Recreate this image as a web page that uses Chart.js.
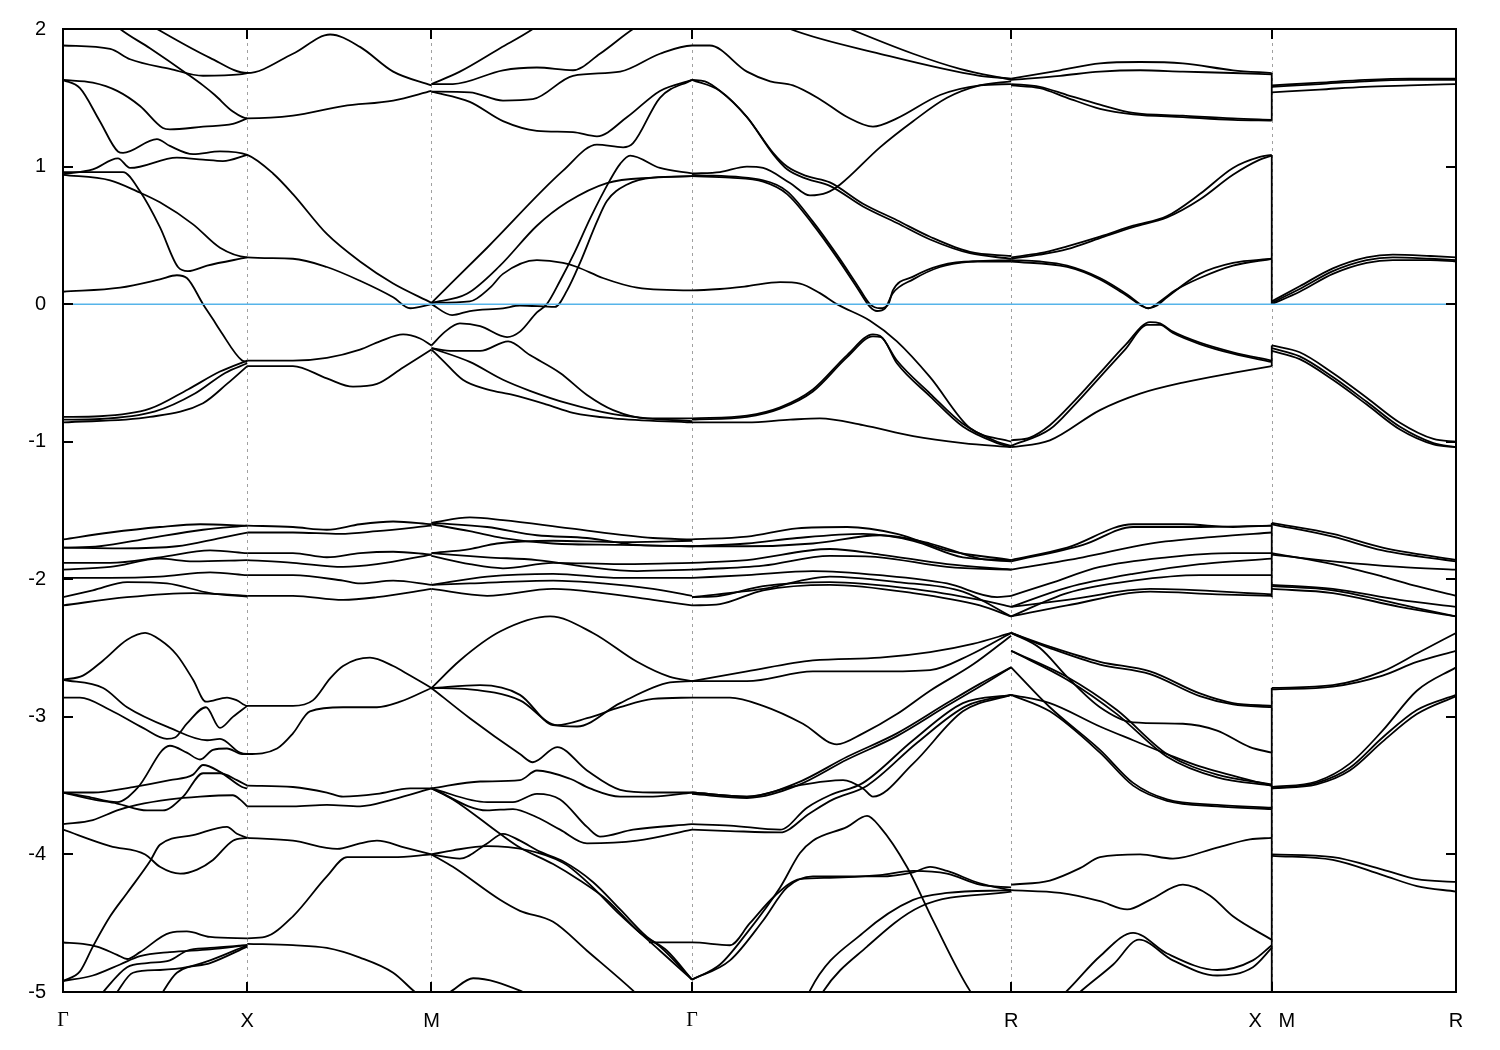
<!DOCTYPE html>
<html>
<head>
<meta charset="utf-8">
<script src="https://cdn.jsdelivr.net/npm/chart.js@4/dist/chart.umd.min.js"></script>
<style>
  html, body { margin: 0; background: #fff; }
</style>
</head>
<body>
<canvas id="bands" width="1500" height="1050"></canvas>
<script>
// k-path (units of 2pi/a) and labels
const kNodes = [0, 0.5, 1, 1.7071, 2.5731, 3.2802, 3.7802];
const kLabels = ['Γ', 'X', 'M', 'Γ', 'R', 'X   M', 'R'];
const yTicks = [-5, -4, -3, -2, -1, 0, 1, 2];
const fermiLevel = 0;
// vertical connections at the X|M break
const jumpEnergies = [[1.68, 1.335], [1.085, 0.0], [-0.30, -0.45], [-1.59, -2.13], [-2.79, -5.0]];

// bands near the Fermi level, [k, E] pairs
const upperBands = [
  [[0.13,2.06],[0.155,2.0],[0.236,1.86],[0.339,1.67],[0.380,1.59],[0.412,1.52],[0.461,1.40],[0.5,1.35],[0.624,1.37],[0.760,1.44],[0.896,1.48],[1,1.55]],
  [[0.23,2.04],[0.255,2.0],[0.399,1.79],[0.5,1.68],[0.624,1.82],[0.725,1.96],[0.806,1.87],[0.896,1.69],[1,1.59]],
  [[0,1.88],[0.128,1.855],[0.182,1.78],[0.290,1.71],[0.380,1.66],[0.480,1.67],[0.5,1.68]],
  [[0,1.63],[0.081,1.61],[0.147,1.55],[0.209,1.44],[0.271,1.28],[0.290,1.27],[0.380,1.29],[0.461,1.31],[0.5,1.35]],
  [[0,1.63],[0.046,1.57],[0.100,1.33],[0.149,1.11],[0.163,1.10],[0.255,1.20],[0.290,1.15],[0.353,1.09],[0.426,1.11],[0.5,1.085],[0.570,0.95],[0.624,0.80],[0.716,0.51],[0.806,0.31],[0.896,0.15],[1,0.01]],
  [[0,0.945],[0.081,0.98],[0.149,1.06],[0.182,0.99],[0.309,1.065],[0.380,1.05],[0.434,1.04],[0.5,1.085]],
  [[0,0.96],[0.163,0.96],[0.209,0.82],[0.263,0.56],[0.312,0.27],[0.339,0.24],[0.391,0.28],[0.5,0.34]],
  [[0,0.94],[0.128,0.90],[0.201,0.82],[0.263,0.74],[0.353,0.58],[0.426,0.41],[0.5,0.34],[0.624,0.33],[0.716,0.27],[0.806,0.17],[0.896,0.05],[0.942,-0.03],[1,0.0]],
  [[0,0.09],[0.155,0.12],[0.263,0.18],[0.309,0.21],[0.336,0.19],[0.380,0.0],[0.407,-0.11],[0.426,-0.19],[0.486,-0.41],[0.5,-0.42]],
  [[0,-0.82],[0.100,-0.815],[0.236,-0.76],[0.339,-0.62],[0.426,-0.49],[0.5,-0.41]],
  [[0,-0.84],[0.100,-0.835],[0.250,-0.78],[0.358,-0.65],[0.440,-0.50],[0.5,-0.43]],
  [[0,-0.86],[0.236,-0.82],[0.380,-0.72],[0.445,-0.58],[0.5,-0.45]],
  [[0.5,-0.41],[0.624,-0.41],[0.716,-0.39],[0.806,-0.33],[0.860,-0.27],[0.923,-0.22],[0.969,-0.25],[1,-0.30]],
  [[0.5,-0.45],[0.624,-0.45],[0.716,-0.54],[0.787,-0.60],[0.852,-0.58],[0.923,-0.46],[1,-0.33]],
  [[1,-0.30],[1.037,-0.2],[1.077,-0.14],[1.132,-0.16],[1.205,-0.24],[1.240,-0.2],[1.286,-0.06],[1.313,0.0],[1.349,0.17],[1.389,0.38],[1.430,0.62],[1.484,0.9],[1.512,1.02],[1.539,1.08],[1.620,0.99],[1.707,0.95]],
  [[1,-0.32],[1.058,-0.34],[1.132,-0.34],[1.208,-0.27],[1.267,-0.37],[1.349,-0.5],[1.422,-0.66],[1.493,-0.77],[1.585,-0.83],[1.707,-0.83]],
  [[1,-0.33],[1.031,-0.41],[1.085,-0.55],[1.151,-0.62],[1.221,-0.66],[1.313,-0.73],[1.384,-0.79],[1.493,-0.83],[1.707,-0.86]],
  [[1,-0.32],[1.104,-0.42],[1.194,-0.55],[1.267,-0.63],[1.368,-0.72],[1.493,-0.80],[1.585,-0.83],[1.707,-0.85]],
  [[1,0.01],[1.104,0.02],[1.159,0.12],[1.194,0.22],[1.286,0.32],[1.357,0.30],[1.395,0.27],[1.465,0.19],[1.558,0.12],[1.707,0.10],[1.783,0.11],[1.856,0.13],[1.946,0.16],[2.000,0.15],[2.054,0.08],[2.100,0.0],[2.190,-0.12],[2.263,-0.27],[2.353,-0.53],[2.461,-0.9],[2.573,-1.0]],
  [[1,0.0],[1.056,-0.08],[1.104,-0.05],[1.194,-0.03],[1.240,-0.01],[1.335,-0.02],[1.368,0.1],[1.403,0.3],[1.449,0.6],[1.476,0.75],[1.531,0.87],[1.601,0.92],[1.707,0.93]],
  [[1,0.01],[1.096,0.075],[1.186,0.28],[1.286,0.57],[1.368,0.74],[1.476,0.88],[1.601,0.92],[1.707,0.93]],
  [[1,0.01],[1.151,0.41],[1.357,0.97],[1.449,1.16],[1.520,1.14],[1.547,1.17],[1.620,1.5],[1.707,1.63]],
  [[1,1.545],[1.104,1.47],[1.194,1.33],[1.286,1.26],[1.384,1.25],[1.449,1.22],[1.531,1.36],[1.620,1.55],[1.707,1.63]],
  [[1,1.545],[1.104,1.54],[1.194,1.48],[1.275,1.49],[1.384,1.66],[1.512,1.69],[1.620,1.82],[1.707,1.88],[1.755,1.88],[1.856,1.69],[1.919,1.62],[1.981,1.59],[2.054,1.49],[2.128,1.36],[2.198,1.29],[2.263,1.35],[2.380,1.52],[2.488,1.59],[2.573,1.60]],
  [[1,1.60],[1.058,1.60],[1.194,1.70],[1.286,1.72],[1.384,1.70],[1.457,1.82],[1.547,2.0],[1.58,2.05]],
  [[1,1.60],[1.077,1.69],[1.186,1.86],[1.275,2.0],[1.30,2.05]],
  [[1.95,2.03],[1.973,2.0],[2.217,1.82],[2.488,1.66],[2.573,1.64]],
  [[2.11,2.03],[2.136,2.0],[2.307,1.82],[2.434,1.71],[2.573,1.63]],
  [[1.707,1.63],[1.742,1.62],[1.783,1.55],[1.856,1.36],[1.927,1.09],[1.965,0.98],[2.019,0.91],[2.081,0.86],[2.171,0.71],[2.263,0.59],[2.353,0.47],[2.461,0.37],[2.573,0.33]],
  [[1.707,1.63],[1.783,1.55],[1.856,1.36],[1.927,1.10],[1.965,1.0],[2.019,0.93],[2.081,0.885],[2.171,0.73],[2.263,0.61],[2.353,0.49],[2.461,0.38],[2.573,0.35]],
  [[1.707,0.95],[1.783,0.96],[1.856,1.0],[1.900,0.99],[1.973,0.88],[2.027,0.79],[2.073,0.81],[2.109,0.87],[2.217,1.14],[2.307,1.33],[2.399,1.5],[2.488,1.59],[2.573,1.62]],
  [[1.707,0.93],[1.810,0.92],[1.900,0.89],[1.965,0.80],[2.035,0.58],[2.100,0.34],[2.155,0.12],[2.190,-0.02],[2.209,-0.05],[2.231,-0.03],[2.252,0.08],[2.307,0.18],[2.380,0.27],[2.469,0.31],[2.573,0.32]],
  [[1.707,0.94],[1.900,0.90],[1.965,0.82],[2.035,0.60],[2.100,0.36],[2.155,0.14],[2.190,0.0],[2.217,-0.03],[2.240,0.0],[2.252,0.10],[2.307,0.20],[2.380,0.28],[2.469,0.31],[2.573,0.31]],
  [[1.707,-0.83],[1.856,-0.81],[1.946,-0.75],[2.035,-0.62],[2.128,-0.37],[2.198,-0.22],[2.217,-0.23],[2.263,-0.41],[2.353,-0.65],[2.442,-0.87],[2.535,-1.0],[2.573,-1.03]],
  [[1.707,-0.84],[1.856,-0.82],[1.946,-0.76],[2.035,-0.635],[2.128,-0.385],[2.198,-0.235],[2.220,-0.24],[2.263,-0.43],[2.353,-0.67],[2.442,-0.89],[2.535,-1.01],[2.573,-1.04]],
  [[1.707,-0.86],[1.856,-0.86],[1.973,-0.84],[2.054,-0.83],[2.171,-0.88],[2.307,-0.96],[2.442,-1.01],[2.573,-1.04]],
  [[2.573,1.64],[2.706,1.70],[2.814,1.75],[2.923,1.76],[3.039,1.75],[3.175,1.70],[3.2802,1.68]],
  [[2.573,1.63],[2.706,1.66],[2.814,1.69],[2.923,1.70],[3.039,1.69],[3.175,1.68],[3.2802,1.67]],
  [[2.573,1.60],[2.651,1.58],[2.725,1.52],[2.814,1.45],[2.904,1.39],[3.039,1.37],[3.175,1.35],[3.2802,1.34]],
  [[2.573,1.59],[2.651,1.57],[2.725,1.50],[2.814,1.42],[2.904,1.38],[3.039,1.36],[3.175,1.34],[3.2802,1.335]],
  [[2.573,0.34],[2.651,0.37],[2.725,0.42],[2.814,0.49],[2.904,0.57],[2.996,0.64],[3.085,0.80],[3.175,0.99],[3.248,1.07],[3.2802,1.085]],
  [[2.573,0.33],[2.651,0.36],[2.725,0.40],[2.814,0.48],[2.904,0.56],[2.996,0.63],[3.085,0.76],[3.175,0.94],[3.248,1.05],[3.2802,1.08]],
  [[2.573,0.32],[2.651,0.31],[2.725,0.28],[2.814,0.19],[2.888,0.07],[2.923,0.0],[2.945,-0.03],[2.969,-0.01],[2.996,0.05],[3.085,0.22],[3.175,0.30],[3.2802,0.33]],
  [[2.573,0.31],[2.725,0.27],[2.814,0.18],[2.888,0.06],[2.945,-0.03],[2.977,0.02],[3.018,0.1],[3.085,0.19],[3.175,0.28],[3.2802,0.33]],
  [[2.573,-0.99],[2.624,-0.97],[2.678,-0.88],[2.746,-0.7],[2.814,-0.5],[2.882,-0.3],[2.950,-0.13],[2.977,-0.14],[3.012,-0.2],[3.085,-0.28],[3.175,-0.35],[3.2802,-0.41]],
  [[2.573,-1.03],[2.678,-0.91],[2.746,-0.73],[2.814,-0.53],[2.882,-0.33],[2.942,-0.15],[2.977,-0.15],[3.012,-0.21],[3.085,-0.29],[3.175,-0.36],[3.2802,-0.42]],
  [[2.573,-1.04],[2.678,-0.99],[2.814,-0.77],[2.923,-0.65],[3.039,-0.57],[3.175,-0.5],[3.2802,-0.45]],
  [[3.2802,1.59],[3.410,1.61],[3.533,1.63],[3.655,1.64],[3.7802,1.64]],
  [[3.2802,1.58],[3.410,1.60],[3.533,1.62],[3.655,1.63],[3.7802,1.63]],
  [[3.2802,1.54],[3.410,1.56],[3.533,1.58],[3.655,1.59],[3.7802,1.60]],
  [[3.2802,0.02],[3.356,0.13],[3.446,0.26],[3.538,0.34],[3.609,0.36],[3.711,0.35],[3.7802,0.34]],
  [[3.2802,0.01],[3.356,0.11],[3.446,0.24],[3.538,0.32],[3.609,0.34],[3.711,0.33],[3.7802,0.32]],
  [[3.2802,0.0],[3.356,0.09],[3.446,0.22],[3.538,0.30],[3.609,0.32],[3.711,0.32],[3.7802,0.31]],
  [[3.2802,-0.30],[3.356,-0.35],[3.446,-0.50],[3.538,-0.68],[3.627,-0.86],[3.719,-0.98],[3.7802,-1.0]],
  [[3.2802,-0.32],[3.356,-0.38],[3.446,-0.53],[3.538,-0.71],[3.627,-0.89],[3.719,-1.01],[3.7802,-1.04]],
  [[3.2802,-0.34],[3.356,-0.40],[3.446,-0.55],[3.538,-0.73],[3.627,-0.91],[3.719,-1.02],[3.7802,-1.04]]
];

// flat d-like bands between -1.5 and -2.3
const midBands = [
  [[0,-1.71],[0.128,-1.66],[0.263,-1.62],[0.372,-1.60],[0.5,-1.61]],
  [[0,-1.77],[0.100,-1.76],[0.236,-1.70],[0.380,-1.64],[0.5,-1.61]],
  [[0,-1.77],[0.155,-1.775],[0.309,-1.76],[0.426,-1.70],[0.5,-1.66]],
  [[0,-1.88],[0.128,-1.88],[0.263,-1.84],[0.399,-1.79],[0.5,-1.81]],
  [[0,-1.93],[0.128,-1.91],[0.263,-1.85],[0.353,-1.87],[0.5,-1.86]],
  [[0,-1.99],[0.128,-1.99],[0.263,-1.98],[0.399,-1.95],[0.5,-1.97]],
  [[0,-2.13],[0.081,-2.08],[0.174,-2.02],[0.282,-2.03],[0.399,-2.10],[0.5,-2.125]],
  [[0,-2.19],[0.174,-2.13],[0.353,-2.10],[0.5,-2.12]],
  [[0.5,-1.61],[0.624,-1.62],[0.716,-1.64],[0.806,-1.60],[0.896,-1.58],[1,-1.60]],
  [[0.5,-1.66],[0.624,-1.66],[0.752,-1.67],[0.852,-1.65],[1,-1.61]],
  [[0.5,-1.81],[0.624,-1.81],[0.716,-1.84],[0.806,-1.81],[0.896,-1.80],[1,-1.82]],
  [[0.5,-1.86],[0.624,-1.88],[0.760,-1.91],[0.852,-1.89],[1,-1.82]],
  [[0.5,-1.97],[0.624,-1.97],[0.760,-2.01],[0.806,-2.03],[0.896,-2.01],[1,-2.04]],
  [[0.5,-2.12],[0.624,-2.12],[0.760,-2.15],[0.852,-2.13],[1,-2.07]],
  [[1,-1.59],[1.104,-1.55],[1.194,-1.57],[1.376,-1.63],[1.601,-1.70],[1.707,-1.71]],
  [[1,-1.59],[1.151,-1.62],[1.286,-1.68],[1.422,-1.70],[1.558,-1.75],[1.707,-1.76]],
  [[1,-1.60],[1.104,-1.65],[1.194,-1.70],[1.330,-1.74],[1.512,-1.75],[1.707,-1.76]],
  [[1,-1.81],[1.104,-1.78],[1.178,-1.74],[1.330,-1.72],[1.512,-1.73],[1.707,-1.72]],
  [[1,-1.83],[1.104,-1.89],[1.194,-1.92],[1.330,-1.88],[1.512,-1.89],[1.707,-1.88]],
  [[1,-1.81],[1.151,-1.84],[1.286,-1.86],[1.422,-1.91],[1.558,-1.94],[1.707,-1.93]],
  [[1,-2.04],[1.151,-1.98],[1.330,-1.96],[1.512,-1.99],[1.707,-1.99]],
  [[1,-2.04],[1.104,-2.03],[1.330,-2.01],[1.465,-2.03],[1.601,-2.07],[1.707,-2.12]],
  [[1,-2.07],[1.151,-2.12],[1.330,-2.07],[1.465,-2.10],[1.601,-2.15],[1.707,-2.19]],
  [[1.707,-1.71],[1.856,-1.69],[1.992,-1.63],[2.128,-1.62],[2.263,-1.67],[2.399,-1.79],[2.573,-1.86]],
  [[1.707,-1.76],[1.856,-1.74],[1.992,-1.70],[2.171,-1.67],[2.307,-1.72],[2.442,-1.84],[2.573,-1.86]],
  [[1.707,-1.76],[1.856,-1.76],[2.035,-1.74],[2.217,-1.68],[2.353,-1.74],[2.488,-1.85],[2.573,-1.87]],
  [[1.707,-1.88],[1.856,-1.86],[2.081,-1.78],[2.217,-1.82],[2.399,-1.89],[2.573,-1.93]],
  [[1.707,-1.93],[1.900,-1.90],[2.081,-1.83],[2.217,-1.84],[2.399,-1.91],[2.573,-1.93]],
  [[1.707,-1.99],[1.856,-1.97],[2.035,-1.94],[2.217,-1.97],[2.399,-2.03],[2.535,-2.13],[2.573,-2.12]],
  [[1.707,-2.13],[1.783,-2.12],[1.900,-2.05],[2.081,-2.02],[2.307,-2.07],[2.488,-2.15],[2.573,-2.2]],
  [[1.707,-2.19],[1.783,-2.18],[1.900,-2.08],[2.081,-2.04],[2.307,-2.10],[2.488,-2.19],[2.573,-2.27]],
  [[1.707,-2.13],[1.900,-2.07],[2.081,-1.98],[2.263,-2.02],[2.442,-2.09],[2.573,-2.27]],
  [[2.573,-1.86],[2.725,-1.77],[2.904,-1.60],[3.039,-1.60],[3.175,-1.62],[3.2802,-1.61]],
  [[2.573,-1.87],[2.768,-1.75],[2.904,-1.62],[3.085,-1.62],[3.2802,-1.61]],
  [[2.573,-1.93],[2.768,-1.84],[2.950,-1.74],[3.132,-1.69],[3.2802,-1.66]],
  [[2.573,-2.12],[2.678,-2.03],[2.814,-1.91],[2.996,-1.84],[3.175,-1.81],[3.2802,-1.81]],
  [[2.573,-2.2],[2.725,-2.06],[2.904,-1.96],[3.085,-1.89],[3.2802,-1.85]],
  [[2.573,-2.27],[2.725,-2.10],[2.904,-2.01],[3.085,-1.97],[3.2802,-1.97]],
  [[2.573,-2.27],[2.725,-2.19],[2.950,-2.09],[3.132,-2.11],[3.2802,-2.12]],
  [[2.573,-2.2],[2.725,-2.15],[2.950,-2.07],[3.2802,-2.11]],
  [[3.2802,-1.59],[3.446,-1.67],[3.581,-1.77],[3.7802,-1.86]],
  [[3.2802,-1.60],[3.446,-1.69],[3.581,-1.79],[3.7802,-1.87]],
  [[3.2802,-1.81],[3.446,-1.89],[3.581,-1.98],[3.674,-2.05],[3.7802,-2.12]],
  [[3.2802,-1.82],[3.446,-1.87],[3.627,-1.91],[3.7802,-1.93]],
  [[3.2802,-2.04],[3.446,-2.07],[3.627,-2.15],[3.7802,-2.2]],
  [[3.2802,-2.07],[3.446,-2.10],[3.627,-2.2],[3.7802,-2.27]],
  [[3.2802,-2.05],[3.446,-2.08],[3.674,-2.21],[3.7802,-2.27]]
];

// deeper bands between -2.3 and -5
const lowBands = [
  [[0,-2.73],[0.054,-2.70],[0.109,-2.59],[0.174,-2.44],[0.223,-2.39],[0.263,-2.44],[0.309,-2.55],[0.353,-2.73],[0.388,-2.89],[0.445,-2.86],[0.472,-2.88],[0.5,-2.92],[0.624,-2.92],[0.678,-2.88],[0.725,-2.72],[0.760,-2.63],[0.833,-2.57],[0.896,-2.63],[0.942,-2.70],[1,-2.79]],
  [[0,-2.73],[0.109,-2.79],[0.174,-2.93],[0.290,-3.08],[0.391,-3.17],[0.426,-3.16],[0.480,-3.26],[0.5,-3.27],[0.581,-3.23],[0.624,-3.12],[0.670,-2.96],[0.760,-2.93],[0.852,-2.93],[0.915,-2.89],[1,-2.79]],
  [[0,-2.86],[0.046,-2.86],[0.128,-2.95],[0.217,-3.08],[0.282,-3.16],[0.304,-3.15],[0.336,-3.05],[0.388,-2.93],[0.426,-3.08],[0.461,-3.0],[0.5,-2.92]],
  [[0,-3.55],[0.065,-3.58],[0.147,-3.62],[0.201,-3.52],[0.290,-3.21],[0.336,-3.26],[0.372,-3.31],[0.407,-3.24],[0.445,-3.23],[0.486,-3.27],[0.5,-3.27]],
  [[0,-3.55],[0.081,-3.55],[0.190,-3.51],[0.290,-3.46],[0.353,-3.42],[0.380,-3.35],[0.426,-3.40],[0.486,-3.51],[0.5,-3.52]],
  [[0,-3.55],[0.081,-3.60],[0.147,-3.63],[0.228,-3.68],[0.271,-3.68],[0.326,-3.58],[0.380,-3.41],[0.426,-3.41],[0.472,-3.46],[0.5,-3.50]],
  [[0,-3.78],[0.081,-3.75],[0.147,-3.68],[0.201,-3.64],[0.290,-3.60],[0.372,-3.58],[0.461,-3.57],[0.480,-3.60],[0.5,-3.65]],
  [[0,-3.82],[0.128,-3.94],[0.223,-4.0],[0.263,-4.09],[0.318,-4.14],[0.364,-4.11],[0.407,-4.04],[0.461,-3.90],[0.5,-3.88]],
  [[0,-4.92],[0.046,-4.85],[0.081,-4.67],[0.128,-4.45],[0.174,-4.28],[0.236,-4.05],[0.263,-3.93],[0.353,-3.86],[0.445,-3.80],[0.472,-3.85],[0.5,-3.88]],
  [[0,-4.64],[0.054,-4.65],[0.092,-4.67],[0.147,-4.73],[0.174,-4.76],[0.209,-4.71],[0.290,-4.57],[0.336,-4.56],[0.399,-4.60],[0.5,-4.61]],
  [[0.10,-5.03],[0.109,-5.0],[0.174,-4.82],[0.228,-4.79],[0.290,-4.77],[0.336,-4.70],[0.399,-4.68],[0.5,-4.66]],
  [[0.14,-5.03],[0.147,-5.0],[0.190,-4.86],[0.263,-4.84],[0.336,-4.82],[0.399,-4.77],[0.5,-4.66]],
  [[0.265,-5.03],[0.271,-5.0],[0.309,-4.86],[0.399,-4.79],[0.5,-4.67]],
  [[0,-4.92],[0.081,-4.88],[0.155,-4.80],[0.209,-4.74],[0.290,-4.71],[0.399,-4.69],[0.5,-4.66]],
  [[0.5,-4.61],[0.548,-4.60],[0.624,-4.45],[0.716,-4.16],[0.771,-4.02],[0.896,-4.02],[1,-4.0]],
  [[0.5,-3.88],[0.624,-3.90],[0.744,-3.96],[0.806,-3.92],[0.852,-3.90],[0.928,-3.95],[1,-4.0]],
  [[0.5,-4.65],[0.624,-4.66],[0.716,-4.68],[0.806,-4.75],[0.896,-4.86],[0.955,-5.0],[0.98,-5.05]],
  [[0.5,-3.50],[0.624,-3.51],[0.716,-3.55],[0.760,-3.58],[0.852,-3.56],[0.942,-3.52],[1,-3.52]],
  [[0.5,-3.65],[0.624,-3.65],[0.716,-3.64],[0.806,-3.65],[0.896,-3.60],[1,-3.52]],
  [[1,-2.79],[1.077,-2.59],[1.186,-2.38],[1.322,-2.27],[1.438,-2.39],[1.558,-2.60],[1.647,-2.71],[1.707,-2.74]],
  [[1,-2.79],[1.132,-2.77],[1.240,-2.84],[1.330,-3.06],[1.395,-3.07],[1.512,-2.9],[1.647,-2.75],[1.707,-2.74]],
  [[1,-2.79],[1.104,-2.80],[1.240,-2.88],[1.341,-3.06],[1.422,-3.01],[1.512,-2.93],[1.601,-2.87],[1.707,-2.86]],
  [[1,-2.79],[1.104,-3.01],[1.240,-3.27],[1.275,-3.33],[1.341,-3.22],[1.422,-3.39],[1.512,-3.53],[1.601,-3.55],[1.707,-3.55]],
  [[1,-3.52],[1.132,-3.47],[1.240,-3.46],[1.286,-3.39],[1.376,-3.45],[1.430,-3.52],[1.512,-3.58],[1.601,-3.58],[1.707,-3.55]],
  [[1,-3.52],[1.151,-3.62],[1.221,-3.62],[1.286,-3.56],[1.349,-3.6],[1.422,-3.8],[1.457,-3.87],[1.547,-3.82],[1.707,-3.78]],
  [[1,-3.52],[1.151,-3.68],[1.221,-3.67],[1.286,-3.73],[1.349,-3.82],[1.422,-3.92],[1.558,-3.9],[1.707,-3.82]],
  [[1,-3.52],[1.058,-3.6],[1.186,-3.85],[1.240,-3.95],[1.330,-4.07],[1.403,-4.19],[1.476,-4.33],[1.566,-4.57],[1.620,-4.67],[1.707,-4.91]],
  [[1,-4.0],[1.058,-4.09],[1.186,-4.33],[1.240,-4.41],[1.330,-4.49],[1.422,-4.70],[1.547,-4.99],[1.57,-5.05]],
  [[1,-4.0],[1.077,-4.03],[1.151,-3.92],[1.194,-3.85],[1.240,-3.9],[1.294,-3.98],[1.357,-4.05],[1.438,-4.2],[1.512,-4.4],[1.585,-4.6],[1.639,-4.7],[1.707,-4.91]],
  [[1,-4.0],[1.058,-3.97],[1.151,-3.94],[1.357,-4.06],[1.422,-4.2],[1.512,-4.44],[1.620,-4.7],[1.707,-4.91]],
  [[1.04,-5.02],[1.056,-4.99],[1.113,-4.9],[1.240,-4.99],[1.26,-5.02]],
  [[1.59,-4.64],[1.707,-4.64],[1.810,-4.66],[1.864,-4.5],[1.932,-4.3],[2.000,-4.18],[2.081,-4.17],[2.217,-4.15],[2.307,-4.12],[2.399,-4.14],[2.488,-4.22],[2.573,-4.24]],
  [[1.707,-2.74],[1.856,-2.67],[2.035,-2.59],[2.217,-2.57],[2.353,-2.53],[2.469,-2.47],[2.573,-2.39]],
  [[1.707,-2.74],[1.856,-2.74],[2.035,-2.67],[2.217,-2.67],[2.353,-2.66],[2.461,-2.55],[2.573,-2.39]],
  [[1.707,-2.86],[1.810,-2.86],[1.900,-2.92],[2.008,-3.05],[2.100,-3.2],[2.171,-3.12],[2.263,-2.98],[2.353,-2.81],[2.469,-2.62],[2.573,-2.41]],
  [[1.707,-3.55],[1.856,-3.58],[1.992,-3.48],[2.128,-3.29],[2.263,-3.12],[2.399,-2.9],[2.488,-2.76],[2.573,-2.64]],
  [[1.707,-3.56],[1.856,-3.59],[1.992,-3.50],[2.128,-3.31],[2.263,-3.14],[2.399,-2.92],[2.488,-2.78],[2.573,-2.64]],
  [[1.707,-3.55],[1.856,-3.58],[1.992,-3.5],[2.117,-3.46],[2.171,-3.52],[2.198,-3.58],[2.307,-3.34],[2.442,-2.96],[2.573,-2.84]],
  [[1.707,-3.78],[1.810,-3.79],[1.946,-3.82],[2.019,-3.66],[2.081,-3.57],[2.171,-3.48],[2.307,-3.17],[2.442,-2.9],[2.573,-2.84]],
  [[1.707,-3.82],[1.810,-3.83],[1.946,-3.84],[2.027,-3.70],[2.090,-3.60],[2.182,-3.50],[2.317,-3.19],[2.452,-2.92],[2.573,-2.84]],
  [[1.707,-4.91],[1.783,-4.80],[1.856,-4.57],[1.946,-4.24],[2.000,-3.99],[2.035,-3.9],[2.128,-3.8],[2.182,-3.72],[2.217,-3.8],[2.290,-4.09],[2.361,-4.48],[2.461,-4.99],[2.48,-5.05]],
  [[1.707,-4.91],[1.810,-4.77],[1.900,-4.48],[1.965,-4.24],[2.035,-4.16],[2.217,-4.16],[2.307,-4.13],[2.353,-4.09],[2.399,-4.12],[2.488,-4.21],[2.573,-4.26]],
  [[2.019,-5.05],[2.027,-4.99],[2.171,-4.57],[2.307,-4.33],[2.399,-4.28],[2.573,-4.26]],
  [[2.053,-5.05],[2.062,-5.0],[2.182,-4.67],[2.326,-4.38],[2.573,-4.27]],
  [[2.573,-2.39],[2.678,-2.49],[2.814,-2.60],[2.950,-2.67],[3.085,-2.83],[3.175,-2.90],[3.2802,-2.92]],
  [[2.573,-2.39],[2.678,-2.50],[2.814,-2.62],[2.950,-2.69],[3.085,-2.85],[3.175,-2.91],[3.2802,-2.93]],
  [[2.573,-2.39],[2.651,-2.5],[2.725,-2.71],[2.814,-2.93],[2.904,-3.04],[3.039,-3.05],[3.132,-3.10],[3.221,-3.22],[3.2802,-3.26]],
  [[2.573,-2.52],[2.725,-2.71],[2.860,-2.95],[2.996,-3.27],[3.132,-3.42],[3.2802,-3.49]],
  [[2.573,-2.52],[2.725,-2.73],[2.860,-2.98],[2.996,-3.29],[3.132,-3.44],[3.2802,-3.50]],
  [[2.573,-2.64],[2.678,-2.93],[2.814,-3.24],[2.904,-3.48],[2.996,-3.6],[3.132,-3.64],[3.2802,-3.66]],
  [[2.573,-2.84],[2.678,-2.96],[2.814,-3.26],[2.904,-3.50],[2.996,-3.61],[3.132,-3.65],[3.2802,-3.67]],
  [[2.573,-2.84],[2.678,-2.90],[2.814,-3.07],[2.904,-3.17],[2.996,-3.27],[3.085,-3.36],[3.2802,-3.50]],
  [[2.573,-4.22],[2.678,-4.19],[2.760,-4.1],[2.814,-4.02],[2.923,-4.0],[3.012,-4.03],[3.132,-3.95],[3.221,-3.89],[3.2802,-3.88]],
  [[2.573,-4.26],[2.706,-4.28],[2.814,-4.34],[2.888,-4.4],[2.950,-4.33],[3.039,-4.22],[3.113,-4.3],[3.175,-4.45],[3.2802,-4.62]],
  [[2.70,-5.05],[2.725,-4.99],[2.814,-4.74],[2.904,-4.57],[2.996,-4.72],[3.132,-4.84],[3.229,-4.77],[3.2802,-4.66]],
  [[2.74,-5.05],[2.76,-5.0],[2.850,-4.8],[2.920,-4.62],[3.012,-4.77],[3.132,-4.88],[3.229,-4.82],[3.2802,-4.68]],
  [[3.2802,-2.79],[3.446,-2.77],[3.581,-2.67],[3.674,-2.54],[3.7802,-2.39]],
  [[3.2802,-2.80],[3.446,-2.78],[3.581,-2.70],[3.674,-2.60],[3.7802,-2.52]],
  [[3.2802,-3.51],[3.402,-3.47],[3.492,-3.34],[3.581,-3.1],[3.674,-2.81],[3.7802,-2.64]],
  [[3.2802,-3.52],[3.402,-3.48],[3.492,-3.37],[3.581,-3.15],[3.674,-2.95],[3.7802,-2.84]],
  [[3.2802,-3.52],[3.402,-3.49],[3.492,-3.39],[3.581,-3.18],[3.674,-2.98],[3.7802,-2.85]],
  [[3.2802,-4.0],[3.446,-4.02],[3.581,-4.11],[3.674,-4.18],[3.7802,-4.20]],
  [[3.2802,-4.01],[3.446,-4.04],[3.581,-4.15],[3.674,-4.23],[3.7802,-4.27]]
];

const toPoints = band => band.map(([x, y]) => ({ x, y }));

const datasets = [];
datasets.push({
  data: [{ x: kNodes[0], y: fermiLevel }, { x: kNodes[kNodes.length - 1], y: fermiLevel }],
  borderColor: '#56b4e9', borderWidth: 1.5, pointRadius: 0, tension: 0, order: 0
});
[...upperBands, ...midBands, ...lowBands].forEach(band => {
  datasets.push({
    data: toPoints(band),
    borderColor: '#000', borderWidth: 1.8, pointRadius: 0,
    cubicInterpolationMode: 'monotone', order: 1
  });
});
jumpEnergies.forEach(([top, bottom]) => {
  datasets.push({
    data: [{ x: kNodes[5], y: top }, { x: kNodes[5], y: bottom }],
    borderColor: '#000', borderWidth: 1.8, pointRadius: 0, tension: 0, order: 1
  });
});

// dashed k-point lines, frame and inward ticks like the gnuplot original
const framePlugin = {
  id: 'frame',
  beforeDatasetsDraw(chart) {
    const { ctx, chartArea: a, scales: { x } } = chart;
    ctx.save();
    ctx.strokeStyle = '#a0a0a0';
    ctx.lineWidth = 1;
    ctx.setLineDash([3, 4]);
    kNodes.slice(1, -1).forEach(k => {
      const px = Math.round(x.getPixelForValue(k)) + 0.5;
      ctx.beginPath();
      ctx.moveTo(px, a.top);
      ctx.lineTo(px, a.bottom);
      ctx.stroke();
    });
    ctx.restore();
  },
  afterDatasetsDraw(chart) {
    const { ctx, chartArea: a, scales: { x, y } } = chart;
    ctx.save();
    ctx.strokeStyle = '#000';
    ctx.lineWidth = 2;
    ctx.beginPath();
    yTicks.forEach(v => {
      const py = Math.round(y.getPixelForValue(v));
      ctx.moveTo(a.left, py); ctx.lineTo(a.left + 10, py);
      ctx.moveTo(a.right, py); ctx.lineTo(a.right - 10, py);
    });
    kNodes.slice(1, -1).forEach(k => {
      const px = Math.round(x.getPixelForValue(k));
      ctx.moveTo(px, a.top); ctx.lineTo(px, a.top + 10);
      ctx.moveTo(px, a.bottom); ctx.lineTo(px, a.bottom - 10);
    });
    ctx.stroke();
    ctx.strokeRect(a.left, a.top, a.right - a.left, a.bottom - a.top);
    ctx.restore();
  }
};

new Chart(document.getElementById('bands'), {
  type: 'line',
  data: { datasets },
  options: {
    responsive: false,
    animation: false,
    devicePixelRatio: 1,
    events: [],
    layout: { padding: { top: 28, right: 44, left: 0, bottom: 0 } },
    plugins: { legend: { display: false }, tooltip: { enabled: false } },
    scales: {
      x: {
        type: 'linear',
        min: kNodes[0],
        max: kNodes[kNodes.length - 1],
        grid: { display: false, drawTicks: false },
        border: { display: false },
        afterBuildTicks: s => { s.ticks = kNodes.map(v => ({ value: v })); },
        afterFit: s => { s.height = 58; },
        ticks: {
          autoSkip: false,
          maxRotation: 0,
          padding: 17,
          color: '#000',
          callback: (v, i) => kLabels[i],
          font: ctx => ({
            family: kLabels[ctx.index] === 'Γ' ? 'Liberation Serif' : 'Liberation Sans',
            size: 20
          })
        }
      },
      y: {
        min: yTicks[0],
        max: yTicks[yTicks.length - 1],
        grid: { display: false, drawTicks: false },
        border: { display: false },
        afterBuildTicks: s => { s.ticks = yTicks.map(v => ({ value: v })); },
        afterFit: s => { s.width = 63; },
        ticks: {
          padding: 17,
          color: '#000',
          font: { family: 'Liberation Sans', size: 20 }
        }
      }
    }
  },
  plugins: [framePlugin]
});
</script>
</body>
</html>
